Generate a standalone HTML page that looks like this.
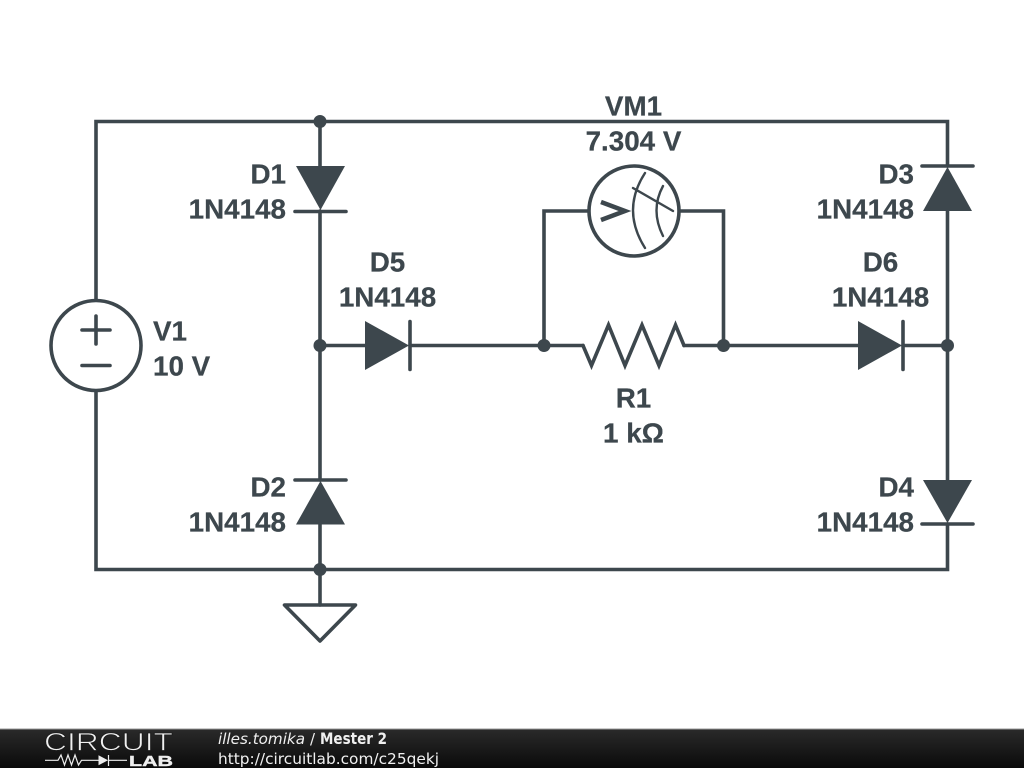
<!DOCTYPE html>
<html>
<head>
<meta charset="utf-8">
<style>
html,body{margin:0;padding:0;background:#fff;width:1024px;height:768px;overflow:hidden}
svg{display:block}
.l{font-family:"Liberation Sans",sans-serif;font-weight:700;font-size:27.8px;fill:#3d474d;stroke:#3d474d;stroke-width:.25}
.f{font-family:"DejaVu Sans",sans-serif;font-size:15px;fill:#f0f0f0}
</style>
</head>
<body>
<svg width="1024" height="768" viewBox="0 0 1024 768" xmlns="http://www.w3.org/2000/svg">
<defs>
<linearGradient id="g" x1="0" y1="0" x2="0" y2="1"><stop offset="0" stop-color="#2a2a2a"/><stop offset="1" stop-color="#0a0a0a"/></linearGradient>
</defs>
<rect width="1024" height="768" fill="#fff"/>
<g fill="none" stroke="#3d474d" stroke-width="3.6" stroke-linecap="round" stroke-linejoin="miter">
<!-- wires -->
<path d="M96 300V121.5H947.5V166M947.5 211V480M947.5 524V569.5H96V390"/>
<path d="M320 121.5V166M320 211V480M320 524V605"/>
<path d="M320 345.500H365M410 345.500H583M684 345.500H858M903 345.500H947.500"/>
<path d="M589 211H544V345.500M679 211H723.500V345.500"/>
<!-- resistor -->
<path d="M583 345.500L591.500 365.500L608.500 325L625 365.500L642 325L659 365.500L675.500 325L684 345.500"/>
<!-- V1 -->
<circle cx="96" cy="345.500" r="45" fill="#fff"/>
<path d="M82 330H110M96 316V344M82 365.500H110"/>
<!-- VM1 -->
<circle cx="634" cy="211" r="45" fill="#fff"/>
<path d="M601 202L625 211L601 220" stroke-width="4.500" stroke-linecap="butt"/>
<path d="M645 173Q621 210 645 248M663 186Q650 210 663 236M633 188L673 211" stroke-width="2.400"/>
<!-- diode bars -->
<path d="M295 211.500H346M295 480H346M922 166H973M922 524H973M410 321.500V369.500M903 321.500V369.500"/>
<!-- ground -->
<path d="M284.500 605H355.500L320 641Z" stroke-linejoin="round"/>
</g>
<g fill="#3d474d">
<path d="M296 166H345L320.500 210Z"/>
<path d="M296 524.500H345L320.500 481Z"/>
<path d="M923 211H972L947.500 167Z"/>
<path d="M923 480H972L947.500 523Z"/>
<path d="M365 321V370L409 345.500Z"/>
<path d="M858 321V370L902 345.500Z"/>
<circle cx="320" cy="121.500" r="6.500"/>
<circle cx="320" cy="345.500" r="6.500"/>
<circle cx="320" cy="569.500" r="6.500"/>
<circle cx="544" cy="345.500" r="6.500"/>
<circle cx="723.500" cy="345.500" r="6.500"/>
<circle cx="947.500" cy="345.500" r="6.500"/>
</g>
<g>
<text class="l" x="286" y="183.500" text-anchor="end">D1</text>
<text class="l" x="286" y="218.500" text-anchor="end">1N4148</text>
<text class="l" x="286" y="496.500" text-anchor="end">D2</text>
<text class="l" x="286" y="531.500" text-anchor="end">1N4148</text>
<text class="l" x="914" y="183.500" text-anchor="end">D3</text>
<text class="l" x="914" y="218.500" text-anchor="end">1N4148</text>
<text class="l" x="914" y="496.500" text-anchor="end">D4</text>
<text class="l" x="914" y="531.500" text-anchor="end">1N4148</text>
<text class="l" x="387.500" y="271.500" text-anchor="middle">D5</text>
<text class="l" x="387.500" y="306.500" text-anchor="middle">1N4148</text>
<text class="l" x="880.500" y="271.500" text-anchor="middle">D6</text>
<text class="l" x="880.500" y="306.500" text-anchor="middle">1N4148</text>
<text class="l" x="633.500" y="115.500" text-anchor="middle">VM1</text>
<text class="l" x="633.500" y="150.500" text-anchor="middle">7.304 V</text>
<text class="l" x="633.500" y="407.500" text-anchor="middle">R1</text>
<text class="l" x="633.500" y="442.500" text-anchor="middle">1 kΩ</text>
<text class="l" x="153" y="340.500">V1</text>
<text class="l" x="153" y="375.500">10 V</text>
</g>
<!-- footer -->
<rect x="0" y="729" width="1024" height="39" fill="url(#g)"/>
<rect x="0" y="728.500" width="1024" height="1" fill="#999"/>
<text x="44" y="750.500" font-family="'Liberation Sans',sans-serif" font-size="25" textLength="129" lengthAdjust="spacingAndGlyphs" fill="#f0f0f0" stroke="#1c1c1c" stroke-width=".8">CIRCUIT</text>
<path d="M45 760.300H58L61 755L64.500 765L68 755L71.500 765L75 755L78.500 765L81.500 760.300H99M108.500 760.300H127M108.500 755V766" fill="none" stroke="#eee" stroke-width="1.200"/>
<path d="M98.500 755.300V765.300L108 760.300Z" fill="#eee"/>
<text x="129" y="766" font-family="'Liberation Sans',sans-serif" font-weight="700" font-size="15" textLength="44" lengthAdjust="spacingAndGlyphs" fill="#eee" stroke="#eee" stroke-width=".4">LAB</text>
<text class="f" x="218" y="744" font-style="italic" textLength="87" lengthAdjust="spacingAndGlyphs">illes.tomika</text>
<text class="f" x="310" y="744">/</text>
<text class="f" x="320" y="744" font-weight="700" font-size="16" style="font-size:16px" textLength="67" lengthAdjust="spacingAndGlyphs">Mester 2</text>
<text class="f" x="218" y="764" textLength="221" lengthAdjust="spacingAndGlyphs">http://circuitlab.com/c25qekj</text>
</svg>
</body>
</html>
